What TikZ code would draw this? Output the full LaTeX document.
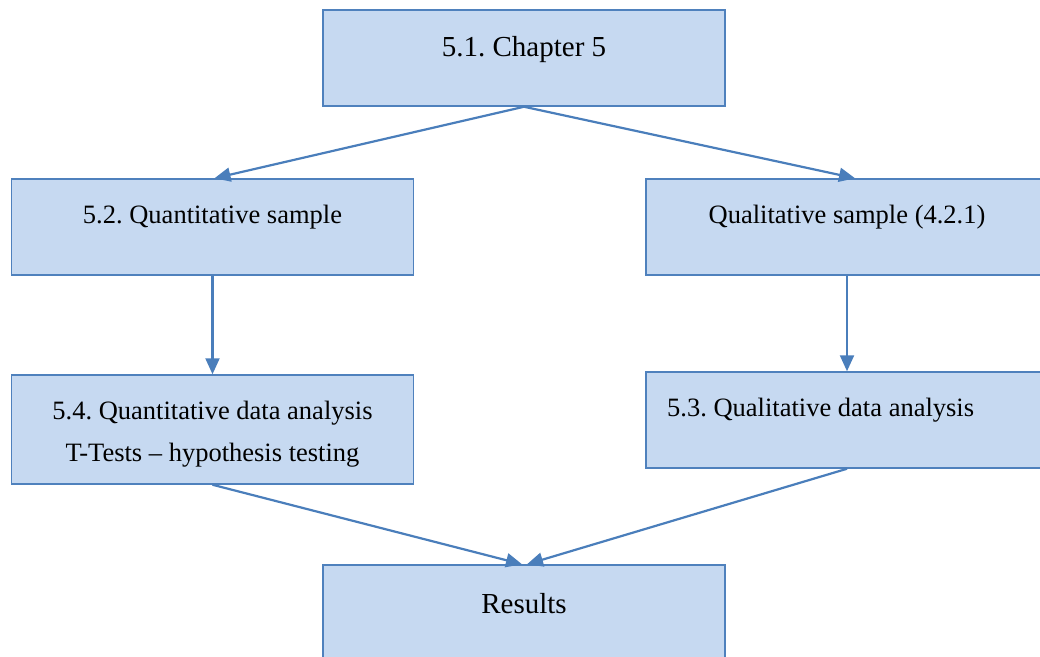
\documentclass[tikz,border=0pt]{standalone}
\usepackage{fontspec}
\setmainfont{Liberation Serif}
\usepackage{xcolor}
\usetikzlibrary{positioning}
\usetikzlibrary{arrows.meta}
\definecolor{boxfill}{HTML}{C6D9F1}
\definecolor{boxline}{HTML}{4F81BD}
\definecolor{arrowline}{HTML}{4A7EBB}
\tikzset{>={Triangle[width=14pt,length=16pt]}}
\frenchspacing

\begin{document}
\begin{tikzpicture}[x=1pt, y=-1pt, box/.style={rectangle, draw=boxline, fill=boxfill, line width=1.5pt, minimum width=402pt, minimum height=96pt, inner sep=0pt}, bigtext/.style={font=\fontsize{29}{34}\selectfont, inner sep=0pt}, boxtext/.style={font=\fontsize{26.5}{42}\selectfont, inner sep=0pt, align=center}, link/.style={->, draw=arrowline, line width=2.2pt}]
    \useasboundingbox (0,0) rectangle (1040,656);

    %Nodes
    \node[box](chapter) at (524,58){};
    \node[box](quansample) at (212.5,227){};
    \node[box](qualsample) at (847,227){};
    \node[box, minimum height=109pt](quananalysis) at (212.5,429.5){};
    \node[box](qualanalysis) at (847,420){};
    \node[box](results) at (524,613){};

    \node[bigtext](chapter_text) at (524,50){5.1. Chapter 5};
    \node[boxtext](quansample_text) at (212.5,217){5.2. Quantitative sample};
    \node[boxtext](qualsample_text) at (847,217){Qualitative sample (4.2.1)};
    \node[boxtext](quananalysis_text) at (212.5,434){5.4. Quantitative data analysis\\T-Tests -- hypothesis testing};
    \node[boxtext, anchor=west](qualanalysis_text) at (667,410){5.3. Qualitative data analysis};
    \node[bigtext](results_text) at (524,604){Results};

    %Lines
    \draw[link] (chapter.south) -- ([xshift=2pt]quansample.north);
    \draw[link] (chapter.south) -- ([xshift=8pt]qualsample.north);
    \draw[link] (quansample.south) -- (quananalysis.north);
    \draw[link] (qualsample.south) -- (qualanalysis.north);
    \draw[link] (quananalysis.south) -- ([xshift=-2pt]results.north);
    \draw[link] (qualanalysis.south) -- ([xshift=3pt]results.north);

\end{tikzpicture}
\end{document}
